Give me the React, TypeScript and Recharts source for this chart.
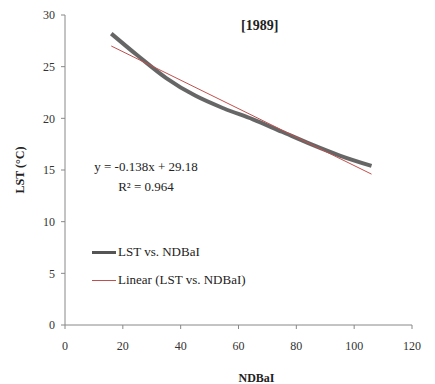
import { LineChart, Line, XAxis, YAxis, Label } from 'recharts'

// LST vs. NDBaI, 1989
const ndbai = [16, 25, 35, 45, 55, 65, 75, 85, 95, 106]
const lst = [28.2, 26.1, 23.9, 22.2, 20.95, 19.9, 18.7, 17.5, 16.4, 15.4]

// linear trend end points (y = -0.138x + 29.18)
const trendX = [16, 106]
const trendY = [27.0, 14.6]

const xTicks = [0, 20, 40, 60, 80, 100, 120]
const yTicks = [0, 5, 10, 15, 20, 25, 30]

const observed = ndbai.map((x, i) => ({ x, y: lst[i] }))
const trend = trendX.map((x, i) => ({ x, y: trendY[i] }))

const font = '"Liberation Serif", "Times New Roman", serif'
const tickStyle = { fontSize: 12, fontFamily: font, fill: '#333' }

export default function App() {
  return (
    <div style={{ position: 'absolute', left: 0, top: 0, width: 435, height: 384, background: '#fff' }}>
      <LineChart width={435} height={384} margin={{ top: 15, right: 23, bottom: 0, left: 0 }}>
        <XAxis
          type="number"
          dataKey="x"
          domain={[0, 120]}
          ticks={xTicks}
          tickSize={4}
          tickMargin={12}
          height={59}
          stroke="#888"
          tick={tickStyle}
          tickLine={{ stroke: '#888' }}
        >
          <Label
            value="NDBaI"
            position="insideBottom"
            offset={2}
            dx={18}
            style={{ fontFamily: font, fontSize: 12, fontWeight: 'bold', fill: '#222' }}
          />
        </XAxis>
        <YAxis
          type="number"
          dataKey="y"
          domain={[0, 30]}
          ticks={yTicks}
          tickSize={4}
          tickMargin={6}
          width={65}
          stroke="#888"
          tick={tickStyle}
          tickLine={{ stroke: '#888' }}
        >
          <Label
            value="LST (°C)"
            angle={-90}
            position="insideLeft"
            offset={20}
            style={{ fontFamily: font, fontSize: 12, fontWeight: 'bold', fill: '#222', textAnchor: 'middle' }}
          />
        </YAxis>
        <Line
          data={observed}
          dataKey="y"
          type="monotone"
          stroke="#555"
          strokeWidth={4}
          strokeOpacity={0.9}
          dot={false}
          isAnimationActive={false}
        />
        <Line
          data={trend}
          dataKey="y"
          type="linear"
          stroke="#c0504d"
          strokeWidth={1}
          dot={false}
          isAnimationActive={false}
        />
      </LineChart>
      <div style={{ position: 'absolute', left: 241, top: 18, fontFamily: font, fontSize: 14, fontWeight: 'bold', color: '#222' }}>
        [1989]
      </div>
      <div style={{ position: 'absolute', left: 80, top: 157, width: 132, textAlign: 'center', fontFamily: font, fontSize: 13, color: '#222', lineHeight: '20px' }}>
        <div>y = -0.138x + 29.18</div>
        <div>R² = 0.964</div>
      </div>
      <div style={{ position: 'absolute', left: 92, top: 238, fontFamily: font, fontSize: 13, color: '#222', lineHeight: '28px' }}>
        <div style={{ display: 'flex', alignItems: 'center' }}>
          <span style={{ width: 24, height: 3, background: '#555', display: 'inline-block', marginRight: 2 }} />
          LST vs. NDBaI
        </div>
        <div style={{ display: 'flex', alignItems: 'center' }}>
          <span style={{ width: 24, height: 1, background: '#c0504d', display: 'inline-block', marginRight: 2 }} />
          Linear (LST vs. NDBaI)
        </div>
      </div>
    </div>
  )
}
